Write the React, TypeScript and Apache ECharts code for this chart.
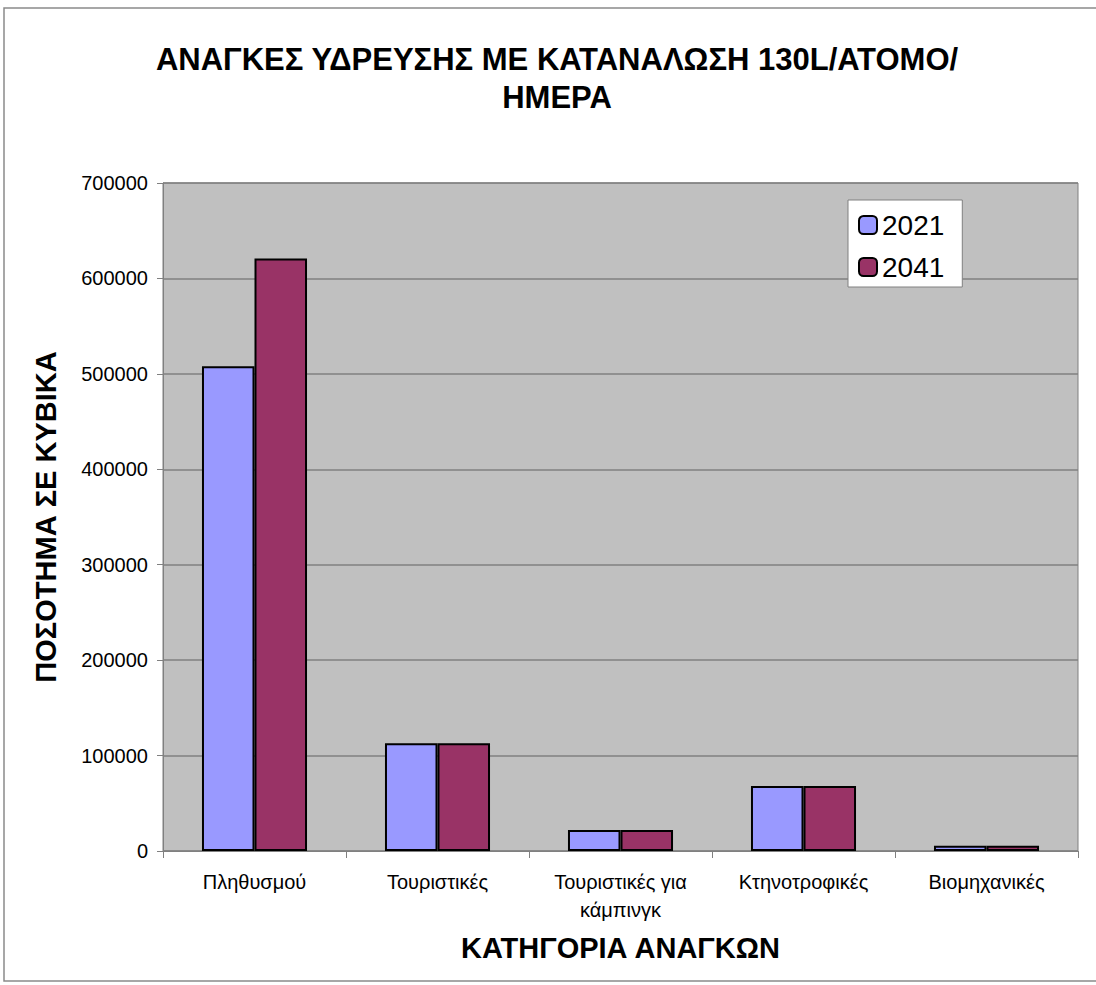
import React, { useEffect, useRef } from "react";
import * as echarts from "echarts";

const titleText = "ΑΝΑΓΚΕΣ ΥΔΡΕΥΣΗΣ ΜΕ ΚΑΤΑΝΑΛΩΣΗ 130L/ΑΤΟΜΟ/\nΗΜΕΡΑ";
const xAxisTitle = "ΚΑΤΗΓΟΡΙΑ ΑΝΑΓΚΩΝ";
const yAxisTitle = "ΠΟΣΟΤΗΜΑ ΣΕ ΚΥΒΙΚΑ";
const categories = ["Πληθυσμού", "Τουριστικές", "Τουριστικές για κάμπινγκ", "Κτηνοτροφικές", "Βιομηχανικές"];
const seriesNames = ["2021", "2041"];
const values2021 = [508000, 113000, 22000, 68000, 5500];
const values2041 = [621000, 113000, 22000, 68000, 5500];

const FONT = "Arial, 'Liberation Sans', sans-serif";

export default function App() {
  const ref = useRef<HTMLDivElement>(null);
  useEffect(() => {
    document.body.style.margin = "0";
    const chart = echarts.init(ref.current!, undefined, { renderer: "svg" });
    chart.setOption({
      animation: false,
      backgroundColor: "#ffffff",
      textStyle: { fontFamily: FONT },
      title: {
        text: titleText,
        left: 552,
        top: 35,
        textAlign: "center",
        textStyle: { fontFamily: FONT, fontSize: 31, fontWeight: "bold", color: "#000", lineHeight: 38 },
      },
      graphic: [
        {
          type: "rect",
          shape: { x: 4, y: 8, width: 1110, height: 973 },
          style: { fill: "none", stroke: "#8a8a8a", lineWidth: 1.5 },
          silent: true,
        },
      ],
      legend: {
        orient: "vertical",
        left: 848,
        top: 200,
        backgroundColor: "#ffffff",
        borderColor: "#808080",
        borderWidth: 1,
        padding: [11, 18, 6, 10],
        itemWidth: 18,
        itemHeight: 18,
        itemGap: 14,
        data: seriesNames,
        textStyle: { fontFamily: FONT, fontSize: 28, color: "#000", lineHeight: 28 },
      },
      grid: {
        left: 163,
        right: 18,
        top: 183,
        bottom: 134,
        show: true,
        backgroundColor: "#C0C0C0",
        borderColor: "#808080",
        borderWidth: 1,
        containLabel: false,
      },
      xAxis: {
        type: "category",
        data: categories,
        name: xAxisTitle,
        nameLocation: "middle",
        nameGap: 82,
        nameMoveOverlap: false,
        nameTextStyle: { fontFamily: FONT, fontSize: 29, fontWeight: "bold", color: "#000" },
        axisLine: { lineStyle: { color: "#808080", width: 1 } },
        axisTick: { show: true, length: 7, lineStyle: { color: "#808080" } },
        axisLabel: {
          fontFamily: FONT,
          fontSize: 20,
          color: "#000",
          margin: 17,
          lineHeight: 28,
          interval: 0,
          hideOverlap: false,
          formatter: (v: string) => v.replace(" για ", " για\n"),
        },
      },
      yAxis: {
        type: "value",
        min: 0,
        max: 700000,
        interval: 100000,
        name: yAxisTitle,
        nameLocation: "middle",
        nameGap: 103,
        nameMoveOverlap: false,
        nameTextStyle: { fontFamily: FONT, fontSize: 29, fontWeight: "bold", color: "#000" },
        axisLine: { show: true, lineStyle: { color: "#808080", width: 1 } },
        axisTick: { show: true, length: 6, lineStyle: { color: "#808080" } },
        axisLabel: {
          fontFamily: FONT,
          fontSize: 20,
          color: "#000",
          margin: 15,
          formatter: (v: number) => String(v),
        },
        splitLine: { show: true, lineStyle: { color: "#808080", width: 1.5 } },
      },
      series: [
        {
          name: seriesNames[0],
          type: "bar",
          data: values2021,
          barGap: "0%",
          barCategoryGap: "42.6%",
          itemStyle: { color: "#9999FF", borderColor: "#000", borderWidth: 2 },
        },
        {
          name: seriesNames[1],
          type: "bar",
          data: values2041,
          barGap: "0%",
          barCategoryGap: "42.6%",
          itemStyle: { color: "#993366", borderColor: "#000", borderWidth: 2 },
        },
      ],
    });
    return () => chart.dispose();
  }, []);
  return <div ref={ref} style={{ width: 1096, height: 985 }} />;
}
